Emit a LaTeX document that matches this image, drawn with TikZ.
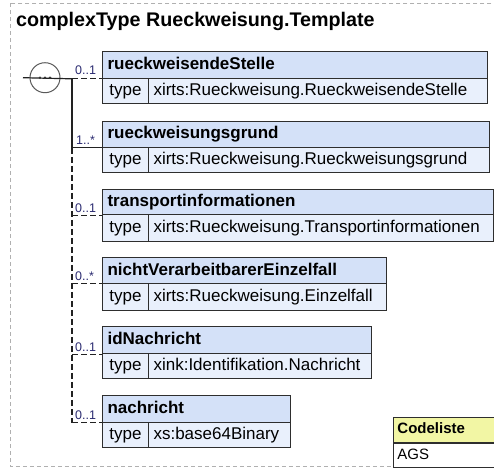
\documentclass[tikz,border=0pt]{standalone}
\usepackage{fontspec}
\setmainfont{Liberation Sans}
\definecolor{hdrblue}{HTML}{D4E1F8}
\definecolor{rowblue}{HTML}{E9F0FC}
\definecolor{boxline}{HTML}{2E2E2E}
\definecolor{lblcol}{HTML}{2A2A70}
\definecolor{cdlyellow}{HTML}{F2F6A4}
\definecolor{framecol}{HTML}{B0B0B0}
\definecolor{conncol}{HTML}{222222}

\tikzset{
  hdr/.style={draw=boxline, line width=1.1pt, fill=hdrblue, anchor=north west,
    inner xsep=5pt, inner ysep=0pt, align=left, text height=12.5pt, text depth=3.5pt,
    font=\fontsize{17}{20}\selectfont\bfseries},
  typecell/.style={draw=boxline, line width=1.1pt, fill=rowblue, anchor=north west,
    inner sep=0pt, minimum width=46pt, text height=12.5pt, text depth=3.5pt,
    font=\fontsize{17}{20}\selectfont},
  valcell/.style={draw=boxline, line width=1.1pt, fill=rowblue, anchor=north west,
    inner xsep=5pt, inner ysep=0pt, align=left, text height=12.5pt, text depth=3.5pt,
    font=\fontsize{17}{20}\selectfont},
  conn/.style={draw=conncol, line width=1.2pt},
  optline/.style={dash pattern=on 6pt off 3pt},
  mult/.style={anchor=base west, inner sep=0pt, text=lblcol, font=\fontsize{12.5}{14}\selectfont},
  seqcirc/.style={circle, draw=black!65, line width=1pt, minimum size=30pt, inner sep=0pt},
  framebox/.style={draw=framecol, line width=1pt, dash pattern=on 4pt off 3pt},
  cdlhdr/.style={draw=boxline, line width=0.9pt, fill=cdlyellow, anchor=north west,
    inner xsep=4pt, inner ysep=0pt, minimum width=130pt, minimum height=25pt,
    text width=122pt, align=left, text height=11pt, text depth=3pt,
    font=\fontsize{15}{18}\selectfont\bfseries},
  cdlrow/.style={draw=boxline, line width=0.9pt, fill=white, anchor=north west,
    inner xsep=4pt, inner ysep=0pt, minimum width=130pt, minimum height=24pt,
    text width=122pt, align=left, text height=11pt, text depth=3pt,
    font=\fontsize{15}{18}\selectfont},
  titlestyle/.style={anchor=base west, inner sep=0pt, font=\fontsize{19.7}{22}\selectfont\bfseries}
}

\newcommand\xsdelem[7]{%
  \pgfmathsetmacro\xw{#5-102}%
  \pgfmathsetmacro\xtw{#5-102-10}%
  \pgfmathsetmacro\xhh{#3-#2}%
  \pgfmathsetmacro\xrh{#4-#3}%
  \pgfmathsetmacro\xvw{#5-148}%
  \pgfmathsetmacro\xvtw{#5-148-10}%
  \node[hdr, minimum width=\xw pt, text width=\xtw pt, minimum height=\xhh pt] (#1h) at (102,#2) {#6};
  \node[typecell, minimum height=\xrh pt] (#1t) at (102,#3) {type};
  \node[valcell, minimum width=\xvw pt, text width=\xvtw pt, minimum height=\xrh pt] (#1v) at (148,#3) {#7};
}

\begin{document}
\begin{tikzpicture}[x=1pt,y=-1pt]
\useasboundingbox (0,0) rectangle (494,467);
\clip (0,0) rectangle (494,467);

% outer frame
\draw[framebox] (10,3.3) rectangle (498,466.5);

% title
\node[titlestyle] (title) at (16,26.5) {complexType Rueckweisung.Template};

% elements
\xsdelem{e1}{51}{77.7}{103.3}{486.7}{rueckweisendeStelle}{xirts:Rueckweisung.RueckweisendeStelle}
\xsdelem{e2}{121}{146.7}{172.3}{489}{rueckweisungsgrund}{xirts:Rueckweisung.Rueckweisungsgrund}
\xsdelem{e3}{189.3}{214.3}{241}{493.3}{transportinformationen}{xirts:Rueckweisung.Transportinformationen}
\xsdelem{e4}{257.3}{282.7}{310}{385.7}{nichtVerarbeitbarerEinzelfall}{xirts:Rueckweisung.Einzelfall}
\xsdelem{e5}{326}{353.3}{378.3}{371}{idNachricht}{xink:Identifikation.Nachricht}
\xsdelem{e6}{395}{421.7}{447.3}{290}{nachricht}{xs:base64Binary}

% sequence compositor
\coordinate (in) at (23,77.7);
\node[seqcirc] (seq) at (45,77.7) {};
\coordinate (tx) at (72,0);
\coordinate (j1) at (tx |- e1h.south west);
\coordinate (j2) at (tx |- e2h.south west);
\coordinate (j3) at (tx |- e3h.south west);
\coordinate (j4) at (tx |- e4h.south west);
\coordinate (j5) at (tx |- e5h.south west);
\coordinate (j6) at (tx |- e6h.south west);

\draw[conn] (in) -- (j1);
\foreach \dx in {-5,0,5} \fill[black!80] ([xshift=\dx pt]seq.center) circle (1.4pt);

% trunk and branches
\draw[conn] (j1) -- (j2);
\draw[conn, optline] (j2) -- (j6);
\draw[conn, optline] (j1) -- (e1h.south west);
\draw[conn] (j2) -- (e2h.south west);
\draw[conn, optline] (j3) -- (e3h.south west);
\draw[conn, optline] (j4) -- (e4h.south west);
\draw[conn, optline] (j5) -- (e5h.south west);
\draw[conn, optline] (j6) -- (e6h.south west);

% multiplicities
\node[mult] (m1) at ([xshift=3pt, yshift=4pt]j1) {0..1};
\node[mult] (m2) at ([xshift=4pt, yshift=3.5pt]j2) {1..*};
\node[mult] (m3) at ([xshift=3pt, yshift=3pt]j3) {0..1};
\node[mult] (m4) at ([xshift=3pt, yshift=3.5pt]j4) {0..*};
\node[mult] (m5) at ([xshift=3pt, yshift=3pt]j5) {0..1};
\node[mult] (m6) at ([xshift=3pt, yshift=3pt]j6) {0..1};

% Codeliste
\node[cdlhdr] (cl) at (393,417) {Codeliste};
\node[cdlrow] (ags) at (cl.south west) {AGS};
\end{tikzpicture}
\end{document}
